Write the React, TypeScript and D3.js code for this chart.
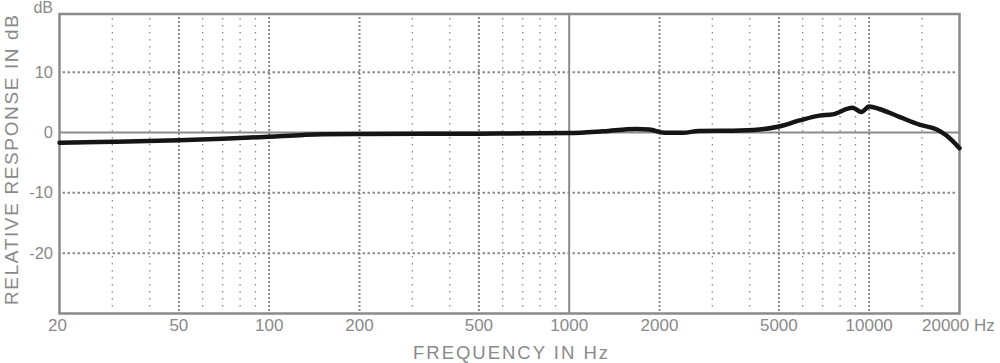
import React from "react";
import * as d3 from "d3";

const freqs = [20, 30, 50, 70, 100, 130, 150, 200, 500, 1000, 1300, 1670, 1850, 2080, 2400, 2700, 3500, 4300, 5000, 5860, 6830, 7550, 8800, 9420, 10000, 10800, 12600, 14700, 16800, 18100, 20000];
const responseDb = [-1.7, -1.55, -1.3, -1.05, -0.7, -0.4, -0.3, -0.25, -0.2, -0.1, 0.2, 0.6, 0.5, -0.05, -0.05, 0.25, 0.3, 0.5, 1.0, 2.0, 2.8, 3.0, 4.1, 3.4, 4.3, 3.9, 2.6, 1.3, 0.5, -0.5, -2.6];

const xTickLabels = [20, 50, 100, 200, 500, 1000, 2000, 5000, 10000, 20000];
const majorGrid = [50, 100, 200, 500, 2000, 5000, 10000];
const minorGrid = [30, 40, 60, 70, 80, 90, 300, 400, 600, 700, 800, 900, 3000, 4000, 6000, 7000, 8000, 9000, 15000];
const yTicks = [10, 0, -10, -20];
const yGrid = [10, -10, -20];

const W = 1000;
const H = 363;
const GRAY = "#8a8a8a";

export default function App() {
  const x = d3.scaleLog().domain([20, 20000]).range([59.5, 959.5]);
  const y = d3.scaleLinear().domain([-30, 0]).range([313.5, 132.5]);
  const top = 14;
  const left = x(20);
  const right = x(20000);
  const bottom = y(-30);

  const pts: [number, number][] = freqs.map((f, i) => [x(f), y(responseDb[i])]);
  const line = d3.line<[number, number]>().x(d => d[0]).y(d => d[1]).curve(d3.curveMonotoneX);

  const font = "'Liberation Sans', Arial, Helvetica, sans-serif";

  return (
    <svg width={W} height={H} style={{ position: "absolute", left: 0, top: 0, background: "#fff" }} fontFamily={font}>
      <rect x={0} y={0} width={W} height={H} fill="#fff" />
      {minorGrid.map(f => (
        <line key={"mn" + f} x1={x(f)} x2={x(f)} y1={top + 4} y2={bottom - 2} stroke={GRAY} strokeWidth={1.3} strokeDasharray="1.5 5.5" />
      ))}
      {majorGrid.map(f => (
        <line key={"mj" + f} x1={x(f)} x2={x(f)} y1={top + 3} y2={bottom - 2} stroke={GRAY} strokeWidth={2} strokeDasharray="2 2" />
      ))}
      {yGrid.map(v => (
        <line key={"hg" + v} x1={left + 3} x2={right - 2} y1={y(v)} y2={y(v)} stroke={GRAY} strokeWidth={2} strokeDasharray="2.5 2.5" />
      ))}
      <line x1={left} x2={right} y1={y(0)} y2={y(0)} stroke={GRAY} strokeWidth={2} />
      <line x1={x(1000)} x2={x(1000)} y1={top} y2={bottom} stroke={GRAY} strokeWidth={2} />
      <rect x={left} y={top} width={right - left} height={bottom - top} fill="none" stroke={GRAY} strokeWidth={2.5} />
      <path d={line(pts) || ""} fill="none" stroke="#151515" strokeWidth={4.5} strokeLinejoin="round" strokeLinecap="round" />
      {yTicks.map(v => (
        <text key={"yt" + v} x={53} y={y(v) + 5.5} textAnchor="end" fontSize={16.5} fill={GRAY}>{v}</text>
      ))}
      <text x={53} y={13} textAnchor="end" fontSize={16} fill={GRAY}>dB</text>
      {xTickLabels.map(f => f === 20000 ? (
        <text key={"xt" + f} x={922} y={331} textAnchor="start" fontSize={17} fill={GRAY}>20000 Hz</text>
      ) : (
        <text key={"xt" + f} x={x(f) - (f === 20 ? 2 : 0)} y={331} textAnchor="middle" fontSize={17} fill={GRAY}>{f}</text>
      ))}
      <text x={413} y={359} fontSize={18.5} fill={GRAY} textLength={195} lengthAdjust="spacing">FREQUENCY IN Hz</text>
      <text transform={`translate(17.5,305) rotate(-90)`} x={0} y={0} fontSize={19} fill={GRAY} textLength={290} lengthAdjust="spacing">RELATIVE RESPONSE IN dB</text>
    </svg>
  );
}
